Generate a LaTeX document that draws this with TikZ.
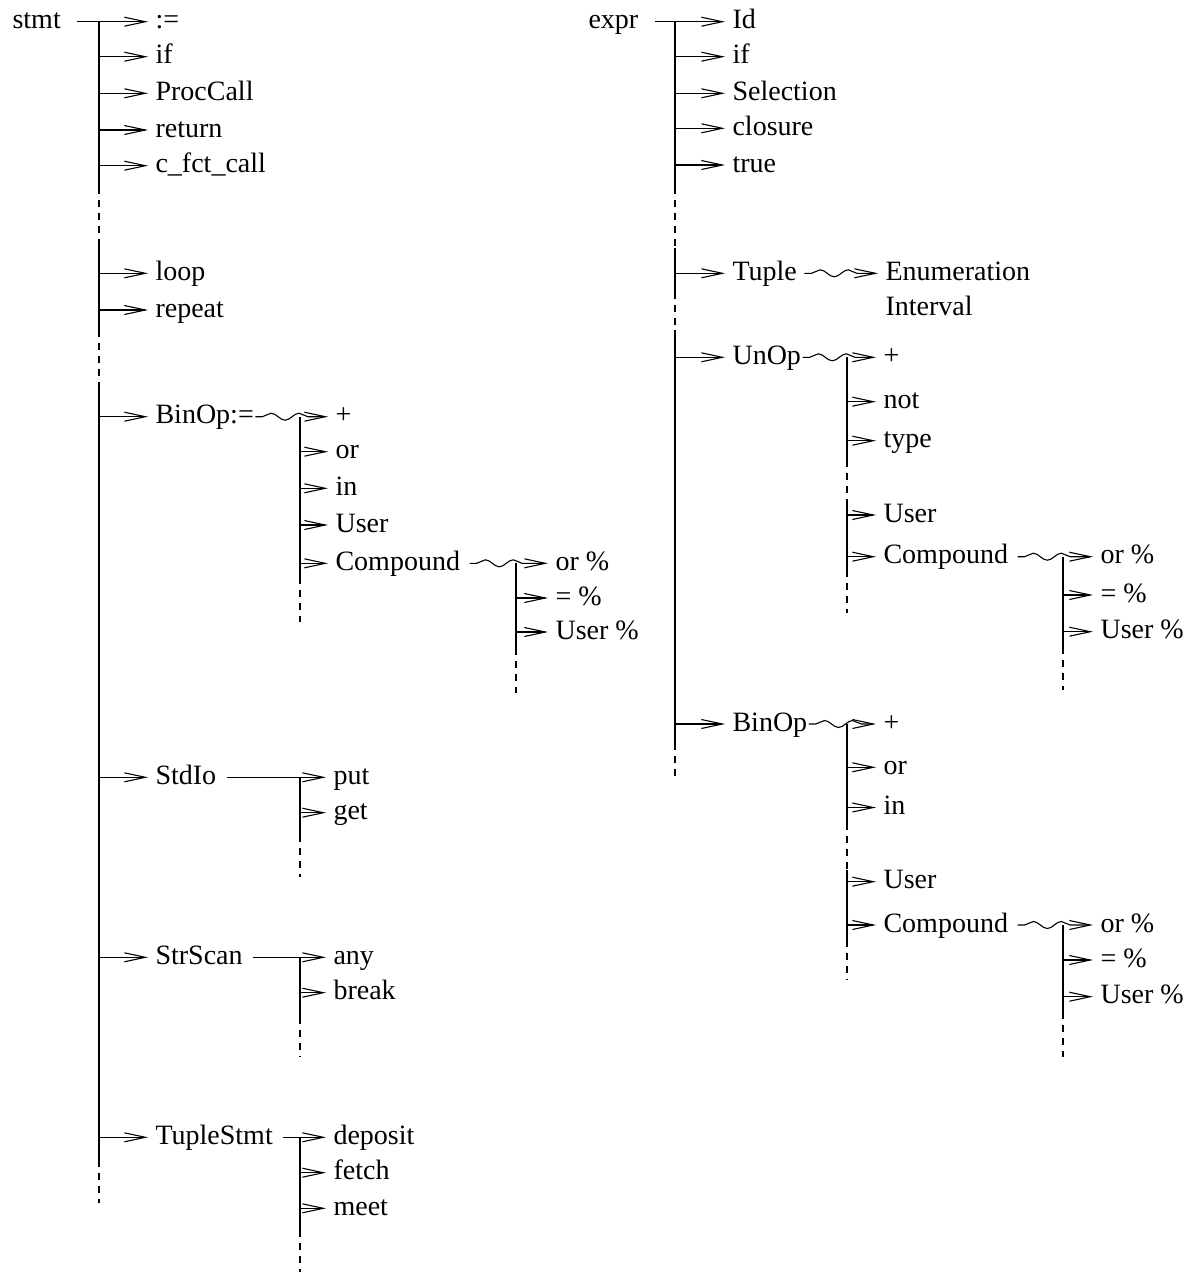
\documentclass[tikz,border=0pt]{standalone}
\usepackage{fontspec}
\setmainfont{Liberation Serif}
\usetikzlibrary{arrows.meta,decorations.pathmorphing}

\begin{document}
\begin{tikzpicture}[x=1pt,y=-1pt,line width=1.1pt,
    lbl/.style={anchor=west,inner xsep=7pt,inner ysep=0pt,text height=20pt,text depth=6pt,
        font=\fontsize{28}{34}\selectfont},
    br/.style={-{Straight Barb[length=21pt,width=9pt]}},
    wv/.style={br,decorate,decoration={snake,amplitude=3.5pt,segment length=28pt,
        pre length=7pt,post length=14pt}},
    dsh/.style={dash pattern=on 7pt off 6pt}]
    \useasboundingbox (0,0) rectangle (1198,1272);

    % stmt
    \node[lbl] (stmt) at (5,21.7) {stmt};
    \foreach \i/\y/\t in {1/21.7/{:=},2/56.7/if,3/93.3/ProcCall,4/130/return,5/165.7/{c\_fct\_call},
        6/273.3/loop,7/310/repeat,8/416.7/{BinOp:=},9/777.3/StdIo,10/957.3/StrScan,11/1137.3/TupleStmt}
        {\node[lbl] (s\i) at (148,\y) {\t};
         \ifnum\i>1 \coordinate (sj\i) at (99,\y); \draw[br] (sj\i) -- (s\i.west); \fi
        }
    \draw[br] ([xshift=9pt]stmt.east) -- (s1.west);
    \draw (99,21.7) -- (99,187) (99,243) -- (99,330) (99,382) -- (99,1160);
    \draw[dsh] (99,187) -- (99,243) (99,330) -- (99,382) (99,1160) -- (99,1203);

    % BinOp:=
    \foreach \i/\y/\t in {1/416.7/+,2/451.7/or,3/488.3/in,4/525/User,5/563.3/Compound}
        {\node[lbl] (b\i) at (328,\y) {\t};
         \ifnum\i>1 \coordinate (bj\i) at (300,\y); \draw[br] (bj\i) -- (b\i.west); \fi
        }
    \draw[wv] ([xshift=-6pt]s8.east) -- (b1.west);
    \draw (300,416.7) -- (300,577);
    \draw[dsh] (300,577) -- (300,622);
    \foreach \i/\y/\t in {1/563.3/{or \%},2/598/{= \%},3/632/{User \%}}
        {\node[lbl] (bc\i) at (548,\y) {\t};
         \ifnum\i>1 \coordinate (bcj\i) at (516,\y); \draw[br] (bcj\i) -- (bc\i.west); \fi
        }
    \draw[wv] ([xshift=2pt]b5.east) -- (bc1.west);
    \draw (516,563.3) -- (516,648);
    \draw[dsh] (516,648) -- (516,693);

    % StdIo, StrScan, TupleStmt
    \foreach \i/\y/\t in {1/777.3/put,2/812.7/get}
        {\node[lbl] (io\i) at (326,\y) {\t};
         \ifnum\i>1 \coordinate (ioj\i) at (300,\y); \draw[br] (ioj\i) -- (io\i.west); \fi
        }
    \draw[br] ([xshift=3pt]s9.east) -- (io1.west);
    \draw (300,777.3) -- (300,835);
    \draw[dsh] (300,835) -- (300,877);
    \foreach \i/\y/\t in {1/957.3/any,2/992.7/break}
        {\node[lbl] (sc\i) at (326,\y) {\t};
         \ifnum\i>1 \coordinate (scj\i) at (300,\y); \draw[br] (scj\i) -- (sc\i.west); \fi
        }
    \draw[br] ([xshift=3pt]s10.east) -- (sc1.west);
    \draw (300,957.3) -- (300,1017);
    \draw[dsh] (300,1017) -- (300,1057);
    \foreach \i/\y/\t in {1/1137.3/deposit,2/1172.7/fetch,3/1208.3/meet}
        {\node[lbl] (ts\i) at (326,\y) {\t};
         \ifnum\i>1 \coordinate (tsj\i) at (300,\y); \draw[br] (tsj\i) -- (ts\i.west); \fi
        }
    \draw[br] ([xshift=3pt]s11.east) -- (ts1.west);
    \draw (300,1137.3) -- (300,1230);
    \draw[dsh] (300,1230) -- (300,1272);

    % expr
    \node[lbl] (expr) at (581,21.7) {expr};
    \foreach \i/\y/\t in {1/21.7/Id,2/56.7/if,3/93.3/Selection,4/128.3/closure,5/165/true,
        6/273.3/Tuple,7/357.3/UnOp,8/724/BinOp}
        {\node[lbl] (e\i) at (725,\y) {\t};
         \ifnum\i>1 \coordinate (ej\i) at (675,\y); \draw[br] (ej\i) -- (e\i.west); \fi
        }
    \draw[br] ([xshift=9pt]expr.east) -- (e1.west);
    \draw (675,21.7) -- (675,187) (675,248) -- (675,292) (675,330) -- (675,743);
    \draw[dsh] (675,187) -- (675,248) (675,292) -- (675,330) (675,743) -- (675,782);

    % Tuple
    \node[lbl] (en) at (878,273.3) {Enumeration};
    \node[lbl] (iv) at (878,308.7) {Interval};
    \draw[wv] (e6.east) -- (en.west);

    % UnOp
    \foreach \i/\y/\t in {1/357.3/+,2/401.7/not,3/440.7/type,4/515/User,5/556.7/Compound}
        {\node[lbl] (u\i) at (876,\y) {\t};
         \ifnum\i>1 \coordinate (uj\i) at (847,\y); \draw[br] (uj\i) -- (u\i.west); \fi
        }
    \draw[wv] ([xshift=-6pt]e7.east) -- (u1.west);
    \draw (847,357.3) -- (847,460) (847,505) -- (847,570);
    \draw[dsh] (847,460) -- (847,505) (847,570) -- (847,613);
    \foreach \i/\y/\t in {1/556.7/{or \%},2/595/{= \%},3/631.7/{User \%}}
        {\node[lbl] (uc\i) at (1093,\y) {\t};
         \ifnum\i>1 \coordinate (ucj\i) at (1063,\y); \draw[br] (ucj\i) -- (uc\i.west); \fi
        }
    \draw[wv] ([xshift=2pt]u5.east) -- (uc1.west);
    \draw (1063,556.7) -- (1063,647);
    \draw[dsh] (1063,647) -- (1063,690);

    % BinOp
    \foreach \i/\y/\t in {1/724/+,2/767.3/or,3/807.5/in,4/881.7/User,5/925/Compound}
        {\node[lbl] (v\i) at (876,\y) {\t};
         \ifnum\i>1 \coordinate (vj\i) at (847,\y); \draw[br] (vj\i) -- (v\i.west); \fi
        }
    \draw[wv] ([xshift=-6pt]e8.east) -- (v1.west);
    \draw (847,724) -- (847,823) (847,870) -- (847,940);
    \draw[dsh] (847,823) -- (847,870) (847,940) -- (847,980);
    \foreach \i/\y/\t in {1/925/{or \%},2/960/{= \%},3/996.7/{User \%}}
        {\node[lbl] (vc\i) at (1093,\y) {\t};
         \ifnum\i>1 \coordinate (vcj\i) at (1063,\y); \draw[br] (vcj\i) -- (vc\i.west); \fi
        }
    \draw[wv] ([xshift=2pt]v5.east) -- (vc1.west);
    \draw (1063,925) -- (1063,1012);
    \draw[dsh] (1063,1012) -- (1063,1057);
\end{tikzpicture}
\end{document}
